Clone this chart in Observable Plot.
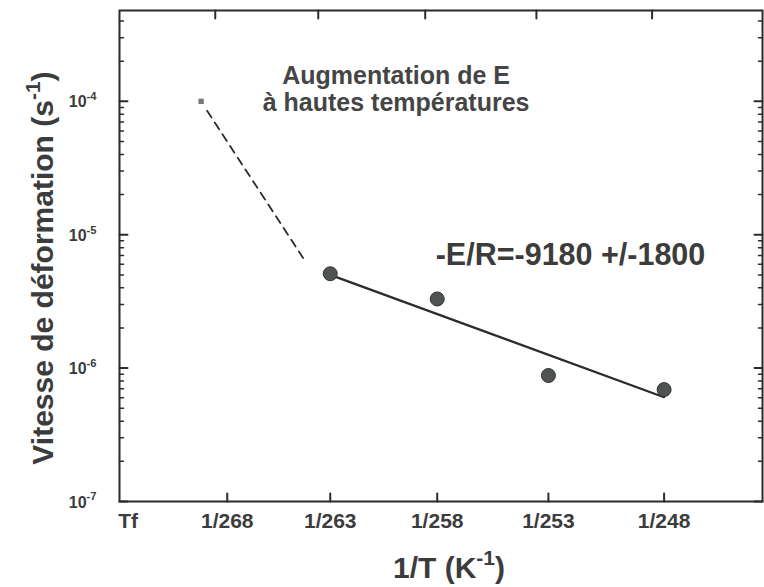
<!DOCTYPE html>
<html><head><meta charset="utf-8">
<script src="https://cdn.jsdelivr.net/npm/d3@7"></script>
<script src="https://cdn.jsdelivr.net/npm/@observablehq/plot@0.6"></script>
<style>body{margin:0;background:#fff} svg{display:block}</style>
</head><body><div id="chart"></div>
<script>
// ---- data (temperatures in K, x is plotted as 1/T) ----
const xTickTemps = [273, 268, 263, 258, 253, 248];
const xTickLabels = ["Tf", "1/268", "1/263", "1/258", "1/253", "1/248"];
const xMarkTemps = [268, 263, 258, 253, 248];
const yTicks = [1e-7, 1e-6, 1e-5, 1e-4];
const yTickLabels = ["10{-7}", "10{-6}", "10{-5}", "10{-4}"];
const pointTemps = [263, 258, 253, 248];
const pointRates = [5.1e-6, 3.3e-6, 8.8e-7, 6.9e-7];
const squareTemps = [269.3];
const squareRates = [1.0e-4];
const dashTemps = [269.0, 264.3];
const dashRates = [8.5e-5, 6.7e-6];
const fitTemps = [263, 248];
const fitRates = [5.0e-6, 6.05e-7];
const xDomainTemps = [273.44, 243.9];
const yDomain = [1e-7, 4.8e-4];
const noteText = "Augmentation de E\nà hautes températures";
const slopeText = "-E/R=-9180 +/-1800";
const yLabel = "Vitesse de déformation (s{-1})";
const xLabel = "1/T (K{-1})";

// minor log ticks (axis structure)
const yMinor = [];
for (const d of yTicks) for (let k = 2; k <= 9; k++) if (d * k <= yDomain[1]) yMinor.push(d * k);

const pts = pointTemps.map((t, i) => ({x: 1 / t, y: pointRates[i]}));
const sq = squareTemps.map((t, i) => ({x: 1 / t, y: squareRates[i]}));
const dash = dashTemps.map((t, i) => ({x: 1 / t, y: dashRates[i]}));
const fit = fitTemps.map((t, i) => ({x: 1 / t, y: fitRates[i]}));

const tickShape = {draw(context, l) { context.moveTo(0, 0); context.lineTo(0, -l); }};
const x0 = 1 / xDomainTemps[0], x1 = 1 / xDomainTemps[1];
const ink = "#2b2b2b", txt = "#3c3c3c";

const chart = Plot.plot({
  width: 764, height: 587,
  marginLeft: 119, marginRight: 2, marginTop: 10, marginBottom: 86,
  style: {fontFamily: "'Liberation Sans', Arial, Helvetica, sans-serif", background: "#fff"},
  x: {type: "linear", domain: [x0, x1], axis: null},
  y: {type: "log", domain: yDomain, axis: null},
  marks: [
    Plot.frame({stroke: ink, strokeWidth: 2}),
    // inward ticks
    Plot.vector(xMarkTemps, {x: d => 1 / d, y: yDomain[0], length: 8, rotate: 0, anchor: "start", shape: tickShape, stroke: ink, strokeWidth: 2}),
    Plot.vector(xMarkTemps, {x: d => 1 / d, y: yDomain[1], length: 8, rotate: 180, anchor: "start", shape: tickShape, stroke: ink, strokeWidth: 2, dx: -12}),
    Plot.vector(yTicks, {x: x0, y: d => d, length: 8, rotate: 90, anchor: "start", shape: tickShape, stroke: ink, strokeWidth: 2}),
    Plot.vector(yMinor, {x: x0, y: d => d, length: 4, rotate: 90, anchor: "start", shape: tickShape, stroke: ink, strokeWidth: 1.5}),
    Plot.vector(yTicks, {x: x1, y: d => d, length: 8, rotate: 270, anchor: "start", shape: tickShape, stroke: ink, strokeWidth: 2}),
    Plot.vector(yMinor, {x: x1, y: d => d, length: 4, rotate: 270, anchor: "start", shape: tickShape, stroke: ink, strokeWidth: 1.5}),
    // tick labels
    Plot.text(xTickLabels, {x: (d, i) => 1 / xTickTemps[i], frameAnchor: "bottom", lineAnchor: "middle", textAnchor: "middle", dy: 20, text: d => d, fontSize: 21, fontWeight: "bold", fill: txt}),
    Plot.text(yTickLabels, {y: (d, i) => yTicks[i], frameAnchor: "left", lineAnchor: "middle", dx: -23, dy: 1, textAnchor: "end", text: d => d, fontSize: 16, fontWeight: "bold", fill: txt}),
    // axis labels
    Plot.text([yLabel], {frameAnchor: "left", textAnchor: "middle", lineAnchor: "middle", dx: -76, dy: 12, rotate: -90, text: d => d, fontSize: 30, fontWeight: "bold", fill: txt}),
    Plot.text([xLabel], {frameAnchor: "bottom", textAnchor: "middle", lineAnchor: "middle", dx: 8, dy: 67, text: d => d, fontSize: 30, fontWeight: "bold", fill: txt}),
    // data
    Plot.line(dash, {x: "x", y: "y", stroke: ink, strokeWidth: 1.8, strokeDasharray: "8,6"}),
    Plot.line(fit, {x: "x", y: "y", stroke: ink, strokeWidth: 2.2}),
    Plot.dot(sq, {x: "x", y: "y", symbol: "square", r: 3, fill: "#777", stroke: "none"}),
    Plot.dot(pts, {x: "x", y: "y", r: 7, fill: "#505450", stroke: "#333", strokeWidth: 1}),
    // annotations
    Plot.text([noteText], {x: 1 / 259.9, y: 1.245e-4, lineAnchor: "middle", text: d => d, fontSize: 25, lineHeight: 1.08, fontWeight: "bold", fill: "#454545"}),
    Plot.text([slopeText], {x: 1 / 252.03, y: 6.97e-6, lineAnchor: "middle", text: d => d, fontSize: 30.5, fontWeight: "bold", fill: txt})
  ]
});
document.getElementById("chart").appendChild(chart);

// superscripts: "{...}" becomes a raised, smaller tspan
chart.querySelectorAll("text").forEach(t => {
  const s = t.textContent;
  if (!s.includes("{")) return;
  const fs = parseFloat(getComputedStyle(t).fontSize) || 16;
  const parts = s.split(/\{([^}]*)\}/);
  while (t.firstChild) t.removeChild(t.firstChild);
  const shift = fs * 0.45;
  parts.forEach((p, i) => {
    if (p === "") return;
    const sp = document.createElementNS("http://www.w3.org/2000/svg", "tspan");
    sp.textContent = p;
    if (i % 2 === 1) {
      sp.setAttribute("font-size", (fs * 0.7) + "px");
      sp.setAttribute("dy", (-shift) + "px");
    } else if (i > 0) {
      sp.setAttribute("dy", shift + "px");
    }
    t.appendChild(sp);
  });
});
</script>
</body></html>
